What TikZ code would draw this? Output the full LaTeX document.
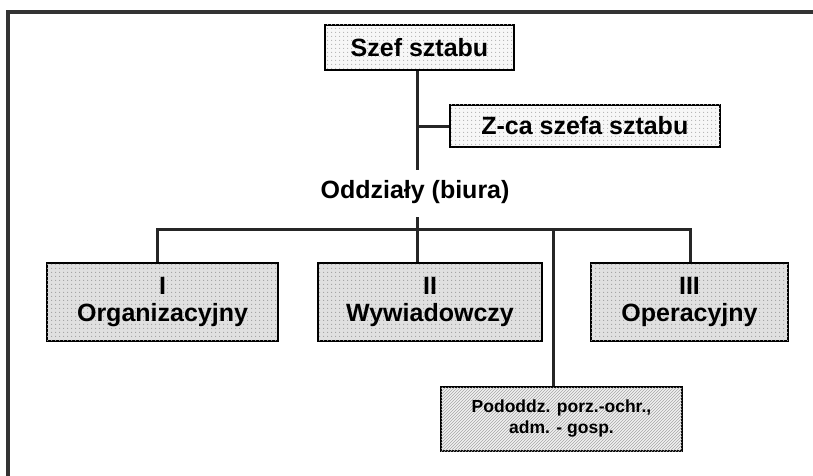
\documentclass[tikz,border=0pt]{standalone}
\usepackage{fontspec}
\setmainfont{Liberation Sans}
\usetikzlibrary{patterns,patterns.meta}

% fine dot screen used as the box shading
\tikzdeclarepattern{
  name=screendots,
  type=uncolored,
  bounding box={(-2pt,-2pt) and (2pt,2pt)},
  tile size={(4pt,4pt)},
  code={\fill (0pt,0pt) circle (0.7pt);}
}

\tikzset{
  box/.style={draw=black, line width=1.6pt, inner sep=0pt, align=center,
    font=\bfseries\fontsize{25}{27}\selectfont},
  lightbox/.style={box, fill=gray!6,
    postaction={pattern=screendots, pattern color=gray!60}},
  darkbox/.style={box, fill=gray!24,
    postaction={pattern=screendots, pattern color=gray!75}},
  hatchbox/.style={box, fill=gray!10,
    postaction={pattern=north east lines, pattern color=gray!70},
    font=\bfseries\fontsize{17.5}{21}\selectfont},
  link/.style={line width=3pt, black!85},
  frameline/.style={line width=3.5pt, black!80}
}

\begin{document}
\begin{tikzpicture}[x=1pt, y=-1pt]
  \useasboundingbox[fill=white] (0,0) rectangle (813,476);

  % outer frame (top and left edges only)
  \draw[frameline] (8,476) -- (8,12) -- (813,12);

  % chief of staff and deputy
  \node[lightbox, minimum width=189pt, minimum height=45pt] (szef) at (419.5,47.5) {Szef sztabu};
  \node[lightbox, minimum width=270pt, minimum height=42pt, anchor=west] (zca) at (449,126) {Z-ca szefa sztabu};

  % departments heading
  \node[font=\bfseries\fontsize{25}{27}\selectfont, inner sep=0pt] (odd) at (415,192) {Oddziały (biura)};

  % departments
  \node[darkbox, minimum width=231pt, minimum height=78pt] (org) at (162.5,302) {I\\Organizacyjny};
  \node[darkbox, minimum width=224pt, minimum height=78pt] (wyw) at (430,302) {II\\Wywiadowczy};
  \node[darkbox, minimum width=197pt, minimum height=78pt] (ope) at (689.5,302) {III\\Operacyjny};
  \node[hatchbox, minimum width=241pt, minimum height=64pt] (pod) at (561.5,419) {Pododdz. porz.-ochr.,\\adm. - gosp.};

  % bus coordinates
  \coordinate (busL) at (157,229);
  \coordinate (busR) at (690,229);
  \coordinate (busM) at (417,229);
  \coordinate (busP) at (553,229);
  \coordinate (oddTop) at (417,170);
  \coordinate (oddBot) at (417,217);
  \coordinate (zcaJ) at (417,126);

  % connectors
  \draw[link] (szef.south -| oddTop) -- (oddTop);
  \draw[link] (zcaJ) -- (zca.west);
  \draw[link] (oddBot) -- (busM);
  \draw[link] (org.north -| busL) -- (busL) -- (busR) -- (ope.north -| busR);
  \draw[link] (busM) -- (wyw.north -| busM);
  \draw[link] (busP) -- (pod.north -| busP);
\end{tikzpicture}
\end{document}
